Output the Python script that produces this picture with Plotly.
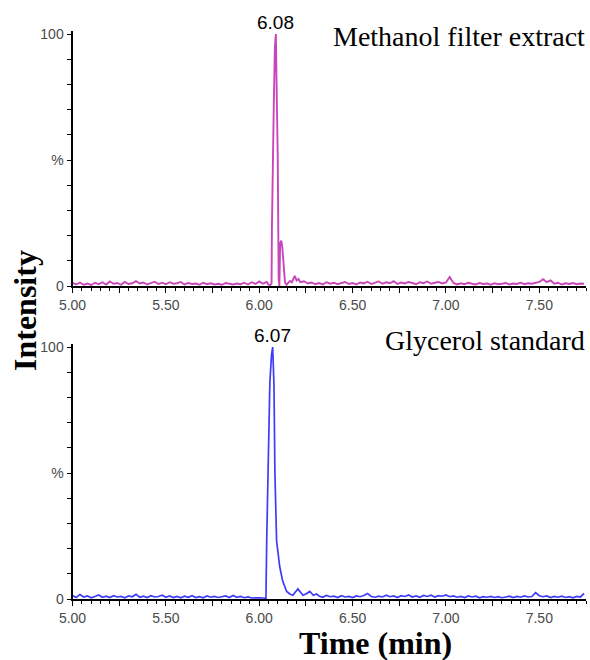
import plotly.graph_objects as go

# ---------------- data ----------------
# Methanol filter extract (top, magenta)
top_time = [
    5.00, 5.02, 5.04, 5.06, 5.08, 5.10, 5.12, 5.14, 5.16, 5.18,
    5.20, 5.22, 5.24, 5.26, 5.28, 5.30, 5.32, 5.34, 5.36, 5.38,
    5.40, 5.42, 5.44, 5.46, 5.48, 5.50, 5.52, 5.54, 5.56, 5.58,
    5.60, 5.62, 5.64, 5.66, 5.68, 5.70, 5.72, 5.74, 5.76, 5.78,
    5.80, 5.82, 5.84, 5.86, 5.88, 5.90, 5.92, 5.94, 5.96, 5.98,
    6.00, 6.02, 6.04, 6.05,
    6.060, 6.066, 6.068, 6.073, 6.078, 6.084, 6.089, 6.094, 6.099, 6.104,
    6.108, 6.112, 6.118, 6.124, 6.130, 6.138, 6.146, 6.155, 6.165, 6.175,
    6.190, 6.200, 6.210, 6.220, 6.240,
    6.26, 6.28, 6.30, 6.32, 6.34, 6.36, 6.38, 6.40, 6.42, 6.44,
    6.46, 6.48, 6.50, 6.52, 6.54, 6.56, 6.58, 6.60, 6.62, 6.64,
    6.66, 6.68, 6.70, 6.72, 6.74, 6.76, 6.78, 6.80, 6.82, 6.84,
    6.86, 6.88, 6.90, 6.92, 6.94, 6.96, 6.98, 7.00, 7.02, 7.04,
    7.06, 7.08, 7.10, 7.12, 7.14, 7.16, 7.18, 7.20, 7.22, 7.24,
    7.26, 7.28, 7.30, 7.32, 7.34, 7.36, 7.38, 7.40, 7.42, 7.44,
    7.46, 7.48, 7.50, 7.52, 7.54, 7.56, 7.58, 7.60, 7.62, 7.64,
    7.66, 7.68, 7.70, 7.72, 7.74,
]
top_intensity = [
    1.2, 0.6, 1.4, 0.5, 1.0, 0.4, 1.3, 0.7, 1.5, 0.6,
    1.8, 0.9, 1.2, 0.5, 1.6, 0.8, 1.1, 1.9, 1.0, 1.4,
    0.6, 1.2, 1.7, 0.8, 1.3, 0.7, 1.5, 0.9, 1.1, 1.6,
    0.6, 1.2, 0.8, 1.0, 0.5, 1.3, 0.7, 1.1, 0.6, 0.9,
    0.5, 1.2, 0.8, 0.6, 1.0, 0.7, 1.3, 0.6, 1.5, 0.8,
    1.8, 0.9, 1.6, 0.5,
    0.4, 1.0, 23.0, 55.0, 72.0, 95.0, 100.0, 75.0, 52.0, 3.0,
    0.0, 17.0, 18.0, 15.0, 9.0, 1.5, 0.5, 1.2, 2.0, 1.5,
    4.0, 2.2, 2.8, 1.5, 1.9,
    1.0, 1.4, 0.7, 1.2, 0.6, 1.5, 0.9, 1.3, 0.7, 1.1,
    1.6, 0.8, 1.2, 0.6, 1.4, 1.0, 1.7, 0.8, 1.3, 1.8,
    0.9, 1.5, 1.1, 1.9, 0.8, 1.4, 1.0, 1.6, 1.2, 0.7,
    1.5, 1.1, 1.8, 0.9, 1.3, 1.6, 1.0, 1.4, 3.6, 1.2,
    0.6, 1.1, 0.7, 1.3, 0.9, 0.6, 1.2, 0.8, 1.0, 0.5,
    1.1, 0.7, 0.9, 1.2, 0.6, 1.0, 0.8, 1.3, 0.7, 1.1,
    0.9, 1.4, 1.6, 2.7, 1.5, 2.2, 0.9, 1.3, 0.6, 1.1,
    0.8, 1.2, 0.7, 1.0, 0.9,
]

# Glycerol standard (bottom, blue)
bottom_time = [
    5.00, 5.02, 5.04, 5.06, 5.08, 5.10, 5.12, 5.14, 5.16, 5.18,
    5.20, 5.22, 5.24, 5.26, 5.28, 5.30, 5.32, 5.34, 5.36, 5.38,
    5.40, 5.42, 5.44, 5.46, 5.48, 5.50, 5.52, 5.54, 5.56, 5.58,
    5.60, 5.62, 5.64, 5.66, 5.68, 5.70, 5.72, 5.74, 5.76, 5.78,
    5.80, 5.82, 5.84, 5.86, 5.88, 5.90, 5.92, 5.94, 5.96, 5.98,
    6.00, 6.02, 6.030,
    6.036, 6.040, 6.047, 6.057, 6.066, 6.072, 6.079, 6.084, 6.093, 6.100,
    6.110, 6.126, 6.147, 6.164, 6.180, 6.207, 6.234, 6.250, 6.271, 6.290,
    6.307,
    6.32, 6.34, 6.36, 6.38, 6.40, 6.42, 6.44,
    6.46, 6.48, 6.50, 6.52, 6.54, 6.56, 6.58, 6.60, 6.62, 6.64,
    6.66, 6.68, 6.70, 6.72, 6.74, 6.76, 6.78, 6.80, 6.82, 6.84,
    6.86, 6.88, 6.90, 6.92, 6.94, 6.96, 6.98, 7.00, 7.02, 7.04,
    7.06, 7.08, 7.10, 7.12, 7.14, 7.16, 7.18, 7.20, 7.22, 7.24,
    7.26, 7.28, 7.30, 7.32, 7.34, 7.36, 7.38, 7.40, 7.42, 7.44,
    7.46, 7.48, 7.50, 7.52, 7.54, 7.56, 7.58, 7.60, 7.62, 7.64,
    7.66, 7.68, 7.70, 7.72, 7.74,
]
bottom_intensity = [
    1.4, 0.6, 1.8, 0.8, 1.2, 0.5, 1.0, 1.6, 0.7, 1.1,
    0.6, 1.3, 0.8, 1.0, 0.5, 1.2, 0.9, 1.9, 0.7, 1.1,
    0.6, 1.3, 0.8, 1.0, 1.5, 0.7, 1.2, 0.6, 1.0, 0.5,
    1.1, 0.7, 1.3, 0.6, 0.9, 0.5, 1.2, 0.7, 1.0, 0.6,
    0.9, 1.2, 0.6, 1.4, 0.7, 1.0, 0.5, 0.8, 0.4, 0.6,
    0.5, 0.4, 0.5,
    0.3, 23.0, 52.0, 86.0, 97.0, 100.0, 85.0, 50.0, 23.0, 18.0,
    12.7, 7.0, 3.0, 2.0, 1.5, 4.0, 1.5, 2.0, 3.0, 1.5,
    2.0,
    1.2, 0.7, 1.4, 0.9, 1.1, 0.6, 1.3,
    0.8, 1.0, 0.6, 1.2, 0.9, 1.4, 2.2, 1.0, 0.7, 1.1,
    0.8, 1.5, 0.9, 1.2, 0.6, 1.3, 1.0, 1.6, 0.8, 1.2,
    0.7, 1.4, 1.0, 1.5, 0.8, 1.3, 1.1, 1.6, 0.9, 1.2,
    0.7, 1.0, 0.6, 1.2, 0.8, 1.1, 0.5, 0.9, 0.7, 1.0,
    0.6, 0.9, 0.5, 0.8, 1.1, 0.6, 1.0, 0.7, 1.2, 0.8,
    1.0, 2.5, 1.3, 0.9, 1.2, 0.6, 1.0, 0.7, 1.1, 0.6,
    0.9, 0.5, 1.0, 0.8, 2.2,
]

peak_labels = ["6.08", "6.07"]
peak_times = [6.089, 6.072]
panel_titles = ["Methanol filter extract", "Glycerol standard"]

x_tickvals = [5.00, 5.25, 5.50, 5.75, 6.00, 6.25, 6.50, 6.75, 7.00, 7.25, 7.50]
x_ticktext = ["5.00", "", "5.50", "", "6.00", "", "6.50", "", "7.00", "", "7.50"]
y_tickvals = [0, 10, 20, 30, 40, 50, 60, 70, 80, 90, 100]
y_ticktext = ["0", "", "", "", "", "%", "", "", "", "", "100"]

# ---------------- figure ----------------
W, H = 590, 660
def py(px):
    return 1 - px / H

x_dom = [72.5 / W, 586 / W]
# 0 at y=286 / 599, 100 at 252 px above (range goes to 101)
top_dom = [py(286), py(286 - 252 * 1.01)]
bot_dom = [py(599), py(599 - 252 * 1.01)]

fig = go.Figure()
fig.add_trace(go.Scatter(x=top_time, y=top_intensity, mode="lines",
                         line=dict(color="rgb(200,70,185)", width=1.9),
                         xaxis="x", yaxis="y", showlegend=False))
fig.add_trace(go.Scatter(x=bottom_time, y=bottom_intensity, mode="lines",
                         line=dict(color="rgb(60,60,250)", width=1.7),
                         xaxis="x2", yaxis="y2", showlegend=False))

tickfont = dict(family="Liberation Sans, Arial", size=14, color="#4a4a4a")
xax = dict(range=[5.0, 7.75], showgrid=False, zeroline=False, automargin=False,
           showline=True, linecolor="black", linewidth=2,
           ticks="outside", ticklen=5, tickwidth=1, tickcolor="black",
           tickmode="array", tickvals=x_tickvals, ticktext=x_ticktext,
           tickfont=tickfont, domain=x_dom,
           minor=dict(tickmode="linear", tick0=5.0, dtick=0.05,
                      ticks="outside", ticklen=3, tickcolor="black", showgrid=False))
yax = dict(range=[0, 101], showgrid=False, zeroline=False, automargin=False,
           showline=True, linecolor="black", linewidth=2,
           ticks="outside", ticklen=4, tickwidth=1, tickcolor="black",
           tickmode="array", tickvals=y_tickvals, ticktext=y_ticktext,
           tickfont=tickfont)

fig.update_layout(
    template="none",
    width=W, height=H,
    margin=dict(l=0, r=0, t=0, b=0, autoexpand=False),
    paper_bgcolor="white", plot_bgcolor="white",
    xaxis=dict(**xax, anchor="y"),
    yaxis=dict(**yax, domain=top_dom, anchor="x"),
    xaxis2=dict(**xax, anchor="y2"),
    yaxis2=dict(**yax, domain=bot_dom, anchor="x2"),
)

annots = []
for i, (lab, t) in enumerate(zip(peak_labels, peak_times)):
    annots.append(dict(x=t, y=100, xref="x" if i == 0 else "x2",
                       yref="y" if i == 0 else "y2",
                       text=lab, showarrow=False, yanchor="bottom", yshift=-1,
                       font=dict(family="Liberation Sans, Arial", size=19, color="black")))
annots.append(dict(x=587 / W, y=py(36), xref="paper", yref="paper",
                   text=panel_titles[0], showarrow=False, xanchor="right", yanchor="middle",
                   font=dict(family="Liberation Serif, Times New Roman", size=28, color="black")))
annots.append(dict(x=587 / W, y=py(340), xref="paper", yref="paper",
                   text=panel_titles[1], showarrow=False, xanchor="right", yanchor="middle",
                   font=dict(family="Liberation Serif, Times New Roman", size=28, color="black")))
annots.append(dict(x=376 / W, y=py(643), xref="paper", yref="paper",
                   text="<b>Time (min)</b>", showarrow=False, xanchor="center", yanchor="middle",
                   font=dict(family="Liberation Serif, Times New Roman", size=32, color="black")))
annots.append(dict(x=25 / W, y=py(311), xref="paper", yref="paper",
                   text="<b>Intensity</b>", showarrow=False, textangle=-90,
                   xanchor="center", yanchor="middle",
                   font=dict(family="Liberation Serif, Times New Roman", size=32, color="black")))
fig.update_layout(annotations=annots)

fig.write_html("out.html", config={"displayModeBar": False},
               post_script="document.body.style.margin='0';document.body.style.overflow='hidden';")
